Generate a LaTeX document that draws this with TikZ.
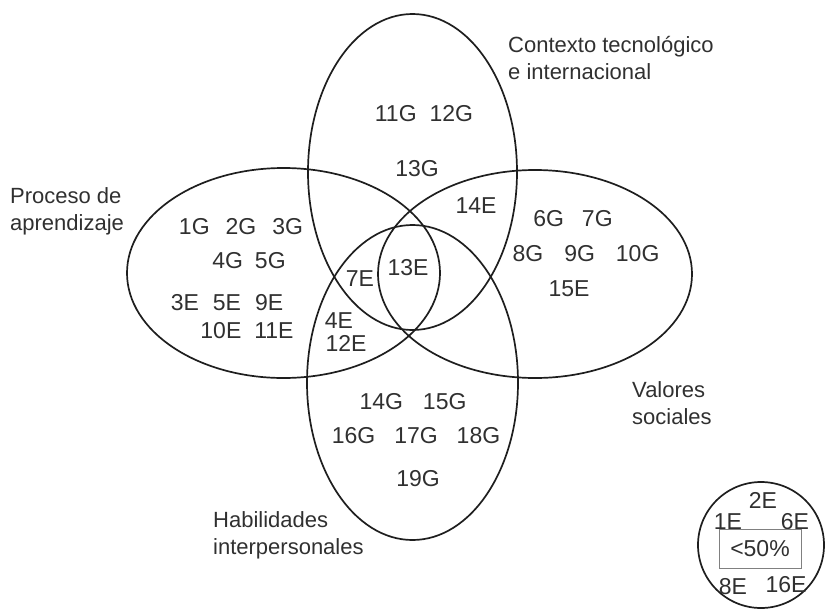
\documentclass[tikz,border=0pt]{standalone}
\usepackage{fontspec}
\setmainfont{Liberation Sans}
\usepackage{tikz}
\usetikzlibrary{positioning}

\definecolor{inkline}{HTML}{1E1E1E}
\definecolor{inktext}{HTML}{303030}

\begin{document}
\begin{tikzpicture}[
    x=1pt, y=-1pt,
    venn/.style={draw=inkline, line width=1.7pt},
    num/.style={text=inktext, font=\fontsize{23}{27}\selectfont,
        inner sep=0pt, text height=16.5pt, text depth=0pt},
    lbl/.style={text=inktext, font=\fontsize{22}{27}\selectfont,
        align=left, anchor=west, inner sep=0pt}
]
    \useasboundingbox (0,0) rectangle (827,608);

    % the four sets
    \draw[venn] (412.5,172) ellipse [x radius=104.5, y radius=158];
    \draw[venn] (412.5,382.5) ellipse [x radius=105.5, y radius=157.5];
    \draw[venn] (283.5,273) ellipse [x radius=156.5, y radius=105];
    \draw[venn] (535,274) ellipse [x radius=157, y radius=104];

    % set names
    \node[lbl] (ctx) at (508,58.5) {Contexto tecnológico\\e internacional};
    \node[lbl] (pro) at (10,211.5) {Proceso de\\aprendizaje};
    \node[lbl] (val) at (632,403) {Valores\\sociales};
    \node[lbl] (hab) at (213,535) {Habilidades\\interpersonales};

    % contexto
    \node[num] (g1112) at (424,113) {11G\hspace{13pt}12G};
    \node[num] (g13) at (417,168) {13G};
    \node[num] (e14) at (476,205) {14E};

    % proceso
    \node[num] (g123) at (241,226) {1G\hspace{16pt}2G\hspace{16pt}3G};
    \node[num] (g45) at (249,260) {4G\hspace{12pt}5G};
    \node[num] (e359) at (227,302) {3E\hspace{14pt}5E\hspace{14pt}9E};
    \node[num] (e1011) at (247,330) {10E\hspace{13pt}11E};

    % centre
    \node[num] (e7) at (360,278) {7E};
    \node[num] (e13) at (408,267) {13E};
    \node[num] (e4) at (339,320) {4E};
    \node[num] (e12) at (346,343) {12E};

    % valores
    \node[num] (g67) at (573,218) {6G\hspace{18pt}7G};
    \node[num] (g8910) at (586,253) {8G\hspace{21pt}9G\hspace{21pt}10G};
    \node[num] (e15) at (569,288) {15E};

    % habilidades
    \node[num] (g1415) at (413,401) {14G\hspace{20pt}15G};
    \node[num] (g161718) at (416,435) {16G\hspace{19pt}17G\hspace{19pt}18G};
    \node[num] (g19) at (418,478) {19G};

    % outside, below half
    \draw[venn] (761,545) circle [radius=63];
    \node[num] (e2) at (763,500) {2E};
    \node[num] (e1) at (728,521) {1E};
    \node[num] (e6) at (795,521) {6E};
    \node[draw=gray, line width=1pt, text=inktext,
        font=\fontsize{23}{27}\selectfont,
        minimum width=82pt, minimum height=39pt, inner sep=0pt]
        (pct) at (760,548.5) {<50\%};
    \node[num] (e8) at (733,586) {8E};
    \node[num] (e16) at (786,584) {16E};
\end{tikzpicture}
\end{document}
